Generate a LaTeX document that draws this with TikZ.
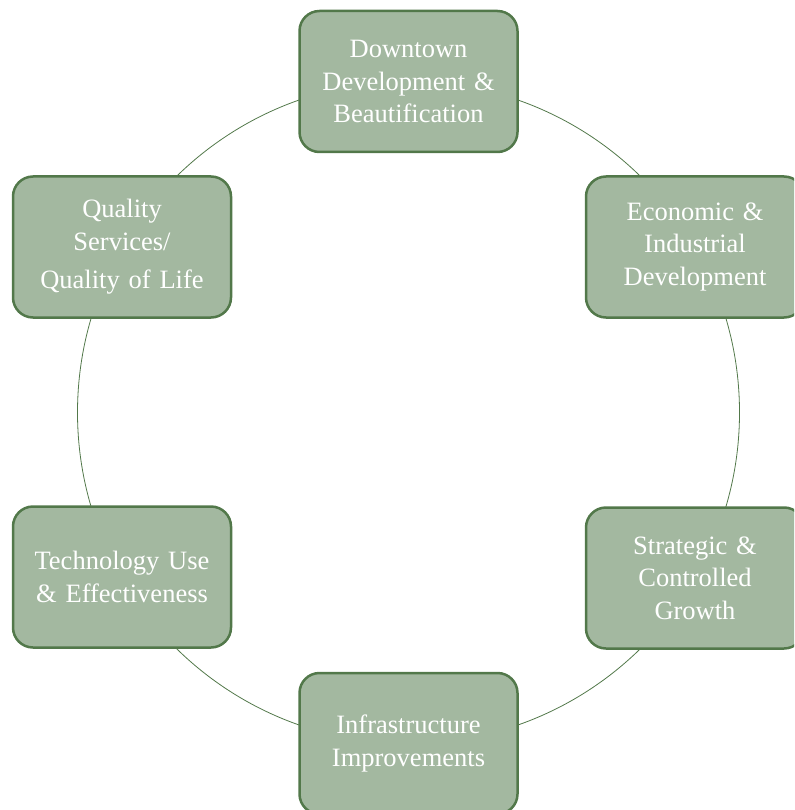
\documentclass[tikz,border=0pt]{standalone}
\usepackage{fontspec}
\setmainfont[WordSpace=0.75]{Liberation Serif}
\usetikzlibrary{positioning}

\definecolor{sage}{HTML}{A3B8A0}
\definecolor{leaf}{HTML}{52784A}

\begin{document}
\begin{tikzpicture}[x=1pt,y=-1pt,
                    goal node/.style={rectangle,rounded corners=20pt,draw=leaf,line width=2.5pt,
                      fill=sage,text=white,minimum width=218pt,minimum height=141pt,
                      text width=210pt,align=center,inner sep=0pt,
                      font=\fontsize{26.5}{32.5}\selectfont}]

  \clip (0,0) rectangle (794,810);
  \useasboundingbox (0,0) rectangle (794,810);

  \coordinate (c) at (408.5,412.5);
  \draw[leaf,line width=0.8pt] (c) circle (331pt);

  \node[goal node] (down) at (408.5,81.5) {Downtown\\Development \&\\Beautification};
  \node[goal node] (econ) at (695,247) {Economic \&\\Industrial\\Development};
  \node[goal node] (grow) at (695,578) {Strategic \&\\Controlled\\Growth};
  \node[goal node] (infra) at (408.5,743.5) {Infrastructure\\Improvements};
  \node[goal node] (tech) at (122,577) {Technology Use\\\& Effectiveness};
  \node[goal node] (qual) at (122,247) {Quality\\Services/\\[6pt]Quality of Life};
\end{tikzpicture}
\end{document}
